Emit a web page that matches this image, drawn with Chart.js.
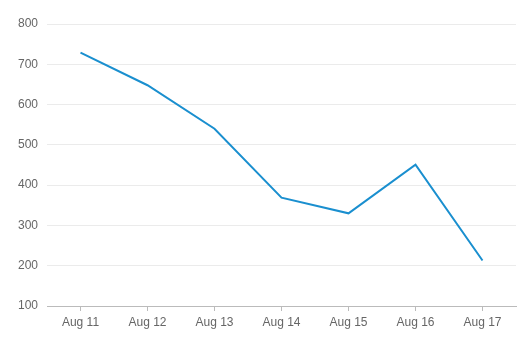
<!DOCTYPE html>
<html>
<head>
<meta charset="utf-8">
<script src="https://cdn.jsdelivr.net/npm/chart.js@4"></script>
<style>
html,body{margin:0;padding:0;background:#fff;}
#wrap{width:531px;height:357px;}
</style>
</head>
<body>
<div id="wrap"><canvas id="c" width="531" height="357"></canvas></div>
<script>
const categories = ["Aug 11","Aug 12","Aug 13","Aug 14","Aug 15","Aug 16","Aug 17"];
const values = [729, 648, 540, 369, 330, 451, 213];
const yTicks = [100, 200, 300, 400, 500, 600, 700, 800];

Chart.defaults.font.family = "'Liberation Sans', Arial, sans-serif";
Chart.defaults.font.size = 12;
Chart.defaults.color = "#666";

new Chart(document.getElementById('c'), {
  type: 'line',
  data: {
    labels: categories,
    datasets: [{
      data: values,
      borderColor: '#1a8fcf',
      borderWidth: 2,
      pointRadius: 0,
      tension: 0,
      fill: false
    }]
  },
  options: {
    responsive: false,
    animation: false,
    devicePixelRatio: 1,
    layout: { padding: { top: 24, right: 15, left: 0, bottom: 0 } },
    plugins: { legend: { display: false }, tooltip: { enabled: false } },
    scales: {
      x: {
        offset: true,
        grid: { display: true, drawOnChartArea: false, drawTicks: true, tickLength: 5, color: '#bbb' },
        border: { display: true, color: '#bbb' },
        ticks: { padding: 4, color: '#666' },
        afterFit: s => { s.height = 51; }
      },
      y: {
        min: 100, max: 800,
        afterBuildTicks: s => { s.ticks = yTicks.map(v => ({ value: v })); },
        grid: { color: '#ebebeb', drawTicks: false },
        border: { display: false },
        ticks: { padding: 9, color: '#666' },
        afterFit: s => { s.width = 47; }
      }
    }
  }
});
</script>
</body>
</html>
